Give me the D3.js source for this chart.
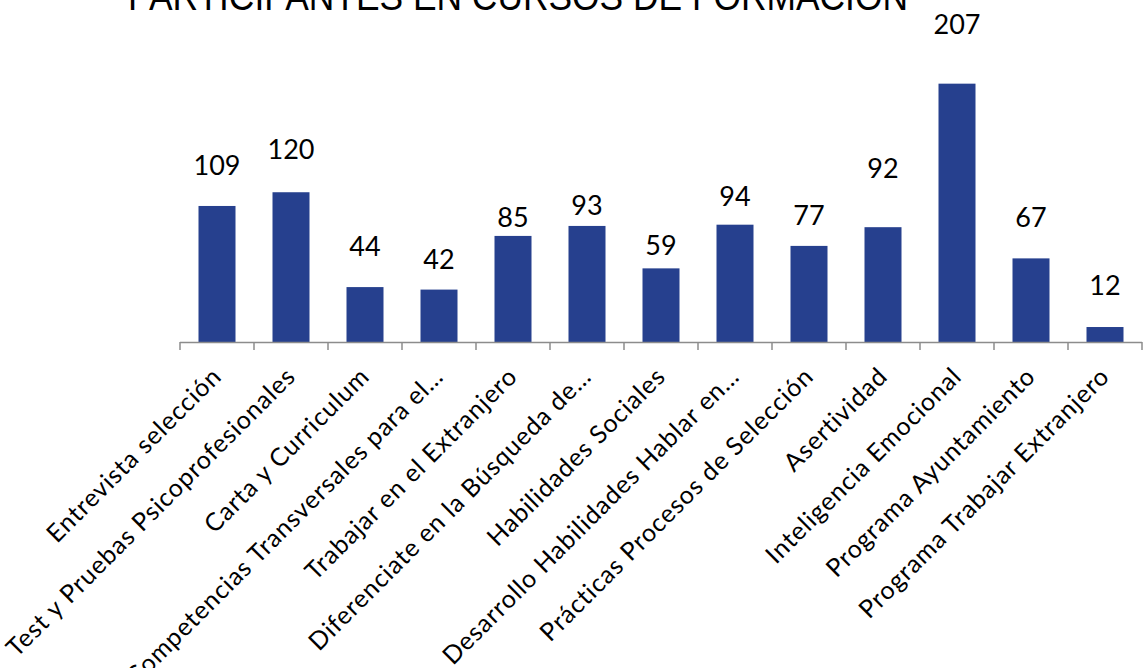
<!DOCTYPE html>
<html>
<head>
<meta charset="utf-8">
<script src="https://cdn.jsdelivr.net/npm/d3@7"></script>
<style>
  body { margin: 0; background: #fff; }
  svg { display: block; }
</style>
</head>
<body>
<script>
var cursos = [
    'Entrevista selección',
    'Test y Pruebas Psicoprofesionales',
    'Carta y Curriculum',
    'Competencias Transversales para el…',
    'Trabajar en el Extranjero',
    'Diferenciate en la Búsqueda de…',
    'Habilidades Sociales',
    'Desarrollo Habilidades Hablar en…',
    'Prácticas Procesos de Selección',
    'Asertividad',
    'Inteligencia Emocional',
    'Programa Ayuntamiento',
    'Programa Trabajar Extranjero'
];
var participantes = [109, 120, 44, 42, 85, 93, 59, 94, 77, 92, 207, 67, 12];

// how far each data label sits above its bar (px), as placed in the original
var labelLift = [31, 33, 31, 21, 9, 11, 13, 19, 21, 49, 50, 31, 32];

var width = 1146, height = 668;
var plotLeft = 180, plotRight = 1142, plotBase = 342, plotTop = 30;

var svg = d3.select('body')
    .append('svg')
    .attr('width', width)
    .attr('height', height);

var x = d3.scaleBand()
    .domain(cursos)
    .range([plotLeft, plotRight])
    .paddingInner(0.5)
    .paddingOuter(0.25);

var y = d3.scaleLinear()
    .domain([0, 250])
    .range([plotBase, plotTop]);

// title (cut off at the top, like the original)
svg.append('text')
    .attr('x', 518)
    .attr('y', 10)
    .attr('text-anchor', 'middle')
    .attr('textLength', 780)
    .attr('lengthAdjust', 'spacingAndGlyphs')
    .style('font-family', '"Liberation Sans", Arial, sans-serif')
    .style('font-size', '38px')
    .attr('fill', '#000')
    .text('PARTICIPANTES EN CURSOS DE FORMACIÓN');

// bars
svg.selectAll('rect.bar')
    .data(participantes)
    .enter()
    .append('rect')
    .attr('class', 'bar')
    .attr('x', function (d, i) { return x(cursos[i]); })
    .attr('y', function (d) { return y(d); })
    .attr('width', x.bandwidth())
    .attr('height', function (d) { return y(0) - y(d); })
    .attr('fill', '#26408E');

// value labels
svg.selectAll('text.val')
    .data(participantes)
    .enter()
    .append('text')
    .attr('class', 'val')
    .attr('x', function (d, i) { return x(cursos[i]) + x.bandwidth() / 2; })
    .attr('y', function (d, i) { return y(d) - labelLift[i]; })
    .attr('text-anchor', 'middle')
    .style('font-family', 'Lato, "Open Sans", sans-serif')
    .style('font-size', '27px')
    .attr('fill', '#000')
    .text(function (d) { return d; });

// category axis: baseline and tick marks between categories
var step = x.step();
var tickPos = cursos.map(function (c) { return x(c) - (step - x.bandwidth()) / 2; });
tickPos.push(plotRight);

var axis = svg.append('g').attr('class', 'axis');
axis.append('line')
    .attr('x1', plotLeft).attr('x2', plotRight)
    .attr('y1', plotBase + 0.5).attr('y2', plotBase + 0.5)
    .attr('stroke', '#8c8c8c')
    .attr('stroke-width', 1.5);
axis.selectAll('line.tick')
    .data(tickPos)
    .enter()
    .append('line')
    .attr('class', 'tick')
    .attr('x1', function (d) { return d; })
    .attr('x2', function (d) { return d; })
    .attr('y1', plotBase)
    .attr('y2', plotBase + 8)
    .attr('stroke', '#8c8c8c')
    .attr('stroke-width', 1.5);

// rotated category labels
axis.selectAll('text.cat')
    .data(cursos)
    .enter()
    .append('text')
    .attr('class', 'cat')
    .attr('text-anchor', 'end')
    .attr('transform', function (d) {
        var cx = x(d) + x.bandwidth() / 2 + 6;
        return 'translate(' + cx + ',' + (plotBase + 36) + ') rotate(-45)';
    })
    .style('font-family', 'Lato, "Open Sans", sans-serif')
    .style('font-size', '25px')
    .style('letter-spacing', '0.9px')
    .attr('fill', '#000')
    .text(function (d) { return d; });
</script>
</body>
</html>
